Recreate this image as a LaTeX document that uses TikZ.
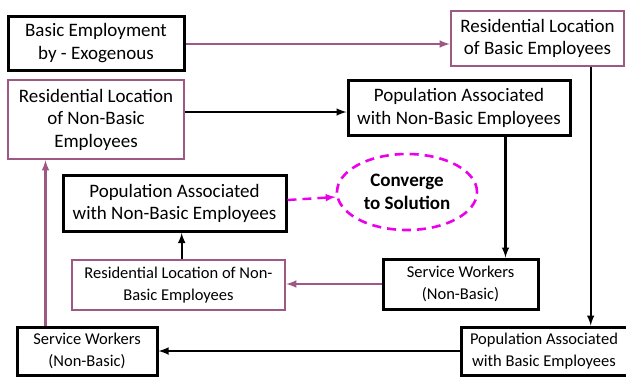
\documentclass[tikz,border=0pt]{standalone}
\usepackage{fontspec}
\setmainfont{Carlito}
\usetikzlibrary{shapes.geometric,calc}
\definecolor{plum}{RGB}{158,88,132}
\definecolor{hotpink}{RGB}{236,0,236}

\begin{document}
\begin{tikzpicture}[x=1pt,y=-1pt,>=latex]
					\useasboundingbox (0,0) rectangle (626,376);
					\tikzset{
						blackbox/.style={draw=black,line width=3pt,align=center,inner sep=0pt,font=\fontsize{19}{22.5}\selectfont},
						plumbox/.style={draw=plum,line width=2.6pt,align=center,inner sep=0pt,font=\fontsize{19}{22.5}\selectfont},
						smallbox/.style={font=\fontsize{16.5}{22}\selectfont},
						link/.style={->,line width=2.4pt}
					}
					% Boxes
					\node[blackbox,minimum width=176,minimum height=54] (basicemp) at (96,43) {Basic Employment\\by - Exogenous};
					\node[plumbox,minimum width=173,minimum height=55] (resbasic) at (537.5,38.5) {Residential Location\\of Basic Employees};
					\node[plumbox,minimum width=176,minimum height=79] (resnonA) at (96,119.5) {Residential Location\\of Non-Basic\\Employees};
					\node[blackbox,minimum width=222,minimum height=55] (popnonA) at (459,108) {Population Associated\\with Non-Basic Employees};
					\node[blackbox,minimum width=223,minimum height=56] (popnonB) at (174.5,203.5) {Population Associated\\with Non-Basic Employees};
					\node[plumbox,smallbox,minimum width=213,minimum height=50] (resnonB) at (178.5,285) {Residential Location of Non-\\Basic Employees};
					\node[blackbox,smallbox,minimum width=155,minimum height=50] (serviceA) at (460.5,284) {Service Workers\\(Non-Basic)};
					\node[blackbox,smallbox,minimum width=166,minimum height=48] (popbasic) at (544,351) {Population Associated\\with Basic Employees};
					\node[blackbox,smallbox,minimum width=140,minimum height=48] (serviceB) at (87,351) {Service Workers\\(Non-Basic)};
					\node[ellipse,draw=hotpink,dashed,dash pattern=on 9pt off 6pt,line width=2.6pt,minimum width=140,minimum height=76,align=center,inner sep=0pt,font=\fontsize{19}{22.5}\selectfont\bfseries] (converge) at (407,192) {Converge\\to Solution};
					% Connectors
					\draw[link,plum] (basicemp.east |- 0,44) -- (resbasic.west |- 0,44);
					\draw[link,black] (resnonA.east |- 0,112) -- (popnonA.west |- 0,112);
					\coordinate (dtop) at ($(popnonA.south west)+(159,0)$);
					\draw[link,black] (dtop) -- (dtop |- serviceA.north);
					\coordinate (btop) at ($(resbasic.south west)+(141,0)$);
					\draw[link,black] (btop) -- (btop |- popbasic.north);
					\draw[link,plum] (serviceA.west) -- (serviceA.west -| resnonB.east);
					\coordinate (gtop) at ($(resnonB.north west)+(111,0)$);
					\draw[link,black] (gtop) -- (gtop |- popnonB.south);
					\draw[link,hotpink,dashed,dash pattern=on 9pt off 6pt] (popnonB.east |- 0,200) -- (converge.west |- 0,197);
					\draw[link,black] (popbasic.west) -- (popbasic.west -| serviceB.east);
					\coordinate (jtop) at ($(serviceB.north west)+(30,0)$);
					\draw[link,plum] (jtop) -- (jtop |- resnonA.south);
				\end{tikzpicture}
\end{document}
